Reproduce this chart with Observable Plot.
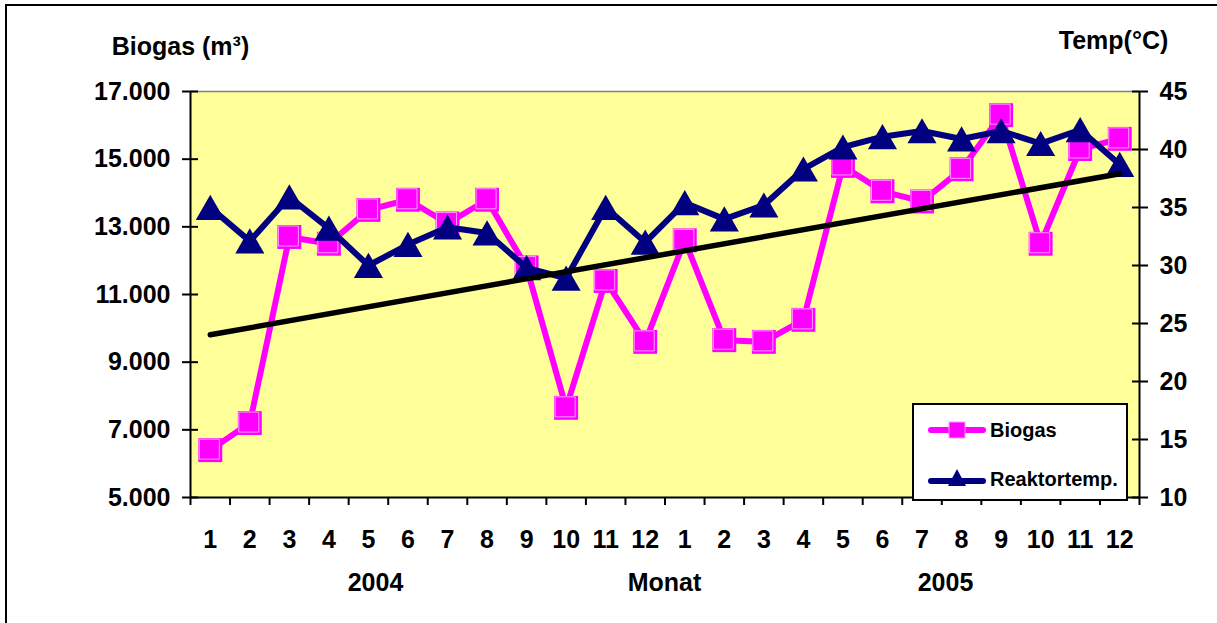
<!DOCTYPE html>
<html>
<head>
<meta charset="utf-8">
<script src="https://cdn.jsdelivr.net/npm/d3@7"></script>
<script src="https://cdn.jsdelivr.net/npm/@observablehq/plot@0.6"></script>
<style>
  html, body { margin: 0; padding: 0; background: #fff; overflow: hidden; }
  #wrap { position: relative; width: 1217px; height: 623px; overflow: hidden; font-family: "Liberation Sans", Arial, sans-serif; font-weight: bold; }
  #border { position: absolute; left: 5px; top: 4px; width: 1300px; height: 700px; border-left: 2px solid #000; border-top: 2px solid #000; }
  #chart { position: absolute; left: 0; top: 0; }
  #legend { position: absolute; left: 912px; top: 403px; width: 212px; height: 94px; background: #fff; border: 2px solid #000; font-size: 20px; }
  .lg { position: absolute; left: 14px; display: flex; align-items: center; }
  .lg span { margin-left: 4px; }
</style>
</head>
<body>
<div id="wrap">
  <div id="border"></div>
  <div id="chart"></div>
  <div id="legend">
    <div class="lg" style="top:13px"><svg width="58" height="24"><line x1="3" y1="12" x2="55" y2="12" stroke="#FF00FF" stroke-width="6" stroke-linecap="round"/><rect x="21" y="4" width="16" height="16" fill="#FF00FF" stroke="#FF99FF" stroke-width="1"/></svg><span>Biogas</span></div>
    <div class="lg" style="top:62px"><svg width="58" height="24"><line x1="3" y1="14" x2="55" y2="14" stroke="#000080" stroke-width="6" stroke-linecap="round"/><polygon points="29,2 38,19 20,19" fill="#000080"/></svg><span>Reaktortemp.</span></div>
  </div>
</div>
<script>
// Month labels (two years)
const monthLabels = ["1","2","3","4","5","6","7","8","9","10","11","12","1","2","3","4","5","6","7","8","9","10","11","12"];
// Biogas production (m³) per month, 2004-2005
const biogas = [6400, 7200, 12700, 12500, 13500, 13800, 13100, 13800, 11800, 7650, 11400, 9600,
                12600, 9650, 9600, 10250, 14800, 14050, 13750, 14700, 16300, 12500, 15300, 15600];
// Reactor temperature (°C)
const temp = [35, 32.1, 35.9, 33.2, 30, 31.8, 33.3, 32.8, 29.8, 28.9, 35, 32,
              35.4, 34, 35.2, 38.3, 40.2, 41.1, 41.6, 40.9, 41.6, 40.5, 41.7, 38.7];
// Axis ticks
const biogasTicks = [5000, 7000, 9000, 11000, 13000, 15000, 17000];
const tempTicks = [10, 15, 20, 25, 30, 35, 40, 45];
const yearLabels = ["2004", "Monat", "2005"];

const bMin = 5000, bMax = 17000, tMin = 10, tMax = 45;
const t2b = t => bMin + (t - tMin) * (bMax - bMin) / (tMax - tMin);
const b2t = b => tMin + (b - bMin) * (tMax - tMin) / (bMax - bMin);
const fmtDot = d => d3.format(",")(d).replace(/,/g, ".");

const data = biogas.map((b, i) => ({i: i + 1, month: monthLabels[i], biogas: b, temp: temp[i], tempB: t2b(temp[i])}));
const n = data.length;
const boundaries = d3.range(0.5, n + 1, 1);
const txt = {fontSize: 25, fontWeight: "bold", fill: "#000", textAnchor: "middle", lineAnchor: "middle"};

const chart = Plot.plot({
  width: 1217,
  height: 623,
  marginLeft: 190,
  marginRight: 78,
  marginTop: 91,
  marginBottom: 126,
  style: {fontFamily: "Liberation Sans, Arial, sans-serif", fontWeight: "bold", fontSize: "25px", background: "transparent", color: "#000", overflow: "visible"},
  x: {type: "linear", domain: [0.5, n + 0.5]},
  y: {type: "linear", domain: [bMin, bMax]},
  marks: [
    Plot.frame({fill: "#FFFF99", stroke: null}),
    Plot.ruleY([bMax], {stroke: "#808080", strokeWidth: 1.5}),
    // bottom month labels
    Plot.axisX({ticks: data.map(d => d.i), tickFormat: d => monthLabels[d - 1], tickSize: 0, tickPadding: 33, label: null, fontSize: 25, fontWeight: "bold"}),
    // bottom tick marks at category boundaries
    Plot.axisX({ticks: boundaries, tickFormat: () => "", tickSize: 8, strokeWidth: 2, label: null}),
    // left axis (labels + crossing ticks)
    Plot.axisY({anchor: "left", ticks: biogasTicks, tickFormat: fmtDot, tickSize: 0, tickPadding: 20, label: null, fontSize: 25, fontWeight: "bold"}),
    Plot.axisY({anchor: "left", ticks: biogasTicks, tickFormat: () => "", tickSize: 16, dx: 8, strokeWidth: 2, label: null}),
    // right axis (temperature mapped onto biogas scale)
    Plot.axisY({anchor: "right", ticks: tempTicks.map(t2b), tickFormat: b => d3.format("d")(Math.round(b2t(b))), tickSize: 0, tickPadding: 20, label: null, fontSize: 25, fontWeight: "bold"}),
    Plot.axisY({anchor: "right", ticks: tempTicks.map(t2b), tickFormat: () => "", tickSize: 16, dx: -8, strokeWidth: 2, label: null}),
    // axis lines
    Plot.ruleX([0.5], {stroke: "#000", strokeWidth: 2}),
    Plot.ruleX([n + 0.5], {stroke: "#000", strokeWidth: 2}),
    Plot.ruleY([bMin], {stroke: "#000", strokeWidth: 2}),
    // Biogas series
    Plot.line(data, {x: "i", y: "biogas", stroke: "#FF00FF", strokeWidth: 6}),
    Plot.dot(data, {x: "i", y: "biogas", symbol: "square", r: 13.5, fill: "#FF00FF", stroke: null}),
    Plot.dot(data, {x: "i", y: "biogas", symbol: "square", r: 11.3, fill: "none", stroke: "#FF99FF", strokeWidth: 1, dx: -1, dy: -1}),
    // Temperature series
    Plot.line(data, {x: "i", y: "tempB", stroke: "#000080", strokeWidth: 6}),
    Plot.dot(data, {x: "i", y: "tempB", symbol: "triangle", r: 10.8, fill: "#000080", stroke: null, dy: 4}),
    // Linear trend of biogas
    Plot.linearRegressionY(data, {x: "i", y: "biogas", stroke: "#000", strokeWidth: 5.5, ci: 0}),
    // axis titles
    Plot.text(["Biogas (m³)"], {frameAnchor: "top-left", dx: -10, dy: -45, text: d => d, ...txt}),
    Plot.text(["Temp(°C)"], {frameAnchor: "top-right", dx: -26, dy: -51, text: d => d, ...txt}),
    Plot.text([yearLabels[0]], {frameAnchor: "bottom-left", dx: 185, dy: 85, text: d => d, ...txt}),
    Plot.text([yearLabels[1]], {frameAnchor: "bottom-left", dx: 474, dy: 85, text: d => d, ...txt}),
    Plot.text([yearLabels[2]], {frameAnchor: "bottom-left", dx: 755, dy: 85, text: d => d, ...txt})
  ]
});
document.getElementById("chart").appendChild(chart);
</script>
</body>
</html>
